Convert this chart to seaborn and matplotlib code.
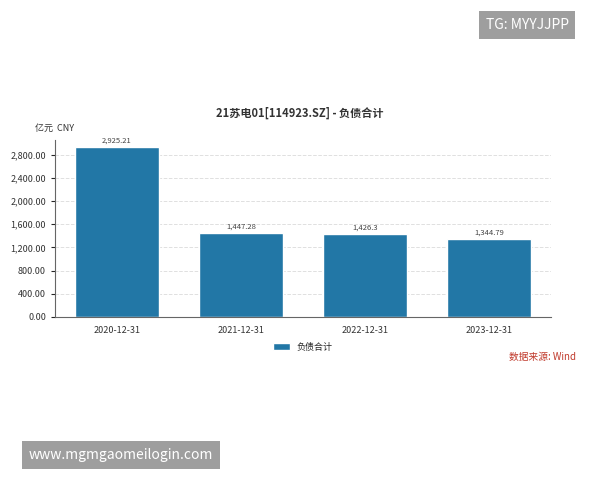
import matplotlib.pyplot as plt
import seaborn as sns
import pandas as pd

dates = ['2020-12-31', '2021-12-31', '2022-12-31', '2023-12-31']
values = [2925.21, 1447.28, 1426.3, 1344.79]
value_labels = ['2,925.21', '1,447.28', '1,426.3', '1,344.79']
yticks = [0, 400, 800, 1200, 1600, 2000, 2400, 2800]

sns.set_style('white')
plt.rcParams['font.family'] = ['Noto Sans CJK SC', 'DejaVu Sans']

df = pd.DataFrame({'date': dates, 'value': values})

fig = plt.figure(figsize=(6, 4.8), dpi=100)
ax = fig.add_axes([55 / 600, 1 - 317 / 480, 496 / 600, 177 / 480])
sns.barplot(data=df, x='date', y='value', color='#2277a6', width=0.68,
            saturation=1, ax=ax, label='负债合计')

for i, (v, lab) in enumerate(zip(values, value_labels)):
    ax.text(i, v + 40, lab, ha='center', va='bottom', fontsize=5.5, color='#444444')

ax.set_ylim(0, 3050)
ax.set_yticks(yticks)
ax.set_yticklabels([f'{t:,.2f}' for t in yticks], fontsize=6.5, color='#333333')
ax.tick_params(axis='x', labelsize=6.5, colors='#333333', length=3)
ax.tick_params(axis='y', length=3, left=True)
ax.set_xlabel('')
ax.set_ylabel('')
ax.yaxis.grid(True, linestyle='--', color='#e0e0e0', linewidth=0.7)
ax.set_axisbelow(True)
for s in ['top', 'right']:
    ax.spines[s].set_visible(False)
ax.spines['left'].set_color('#666666')
ax.spines['bottom'].set_color('#666666')

ax.legend(loc='upper center', bbox_to_anchor=(0.5, -0.1), frameon=False,
          fontsize=6.5, handlelength=1.8, handleheight=0.9)

fig.text(0.5, 1 - 113 / 480, '21苏电01[114923.SZ] - 负债合计', ha='center', va='center',
         fontsize=8, fontweight='bold', color='#333333')
fig.text(35 / 600, 1 - 128 / 480, '亿元  CNY', ha='left', va='center', fontsize=6.5, color='#333333')
fig.text(576 / 600, 1 - 357 / 480, '数据来源: Wind', ha='right', va='center', fontsize=7, color='#c0392b')

fig.text(527 / 600, 1 - 25 / 480, 'TG: MYYJJPP', ha='center', va='center', fontsize=10, color='white',
         bbox=dict(boxstyle='square,pad=0.5', facecolor='#9e9e9e', edgecolor='none'))
fig.text(121 / 600, 1 - 455 / 480, 'www.mgmgaomeilogin.com', ha='center', va='center', fontsize=10,
         color='white', bbox=dict(boxstyle='square,pad=0.5', facecolor='#9e9e9e', edgecolor='none'))

fig.savefig('out.png', dpi=100)
